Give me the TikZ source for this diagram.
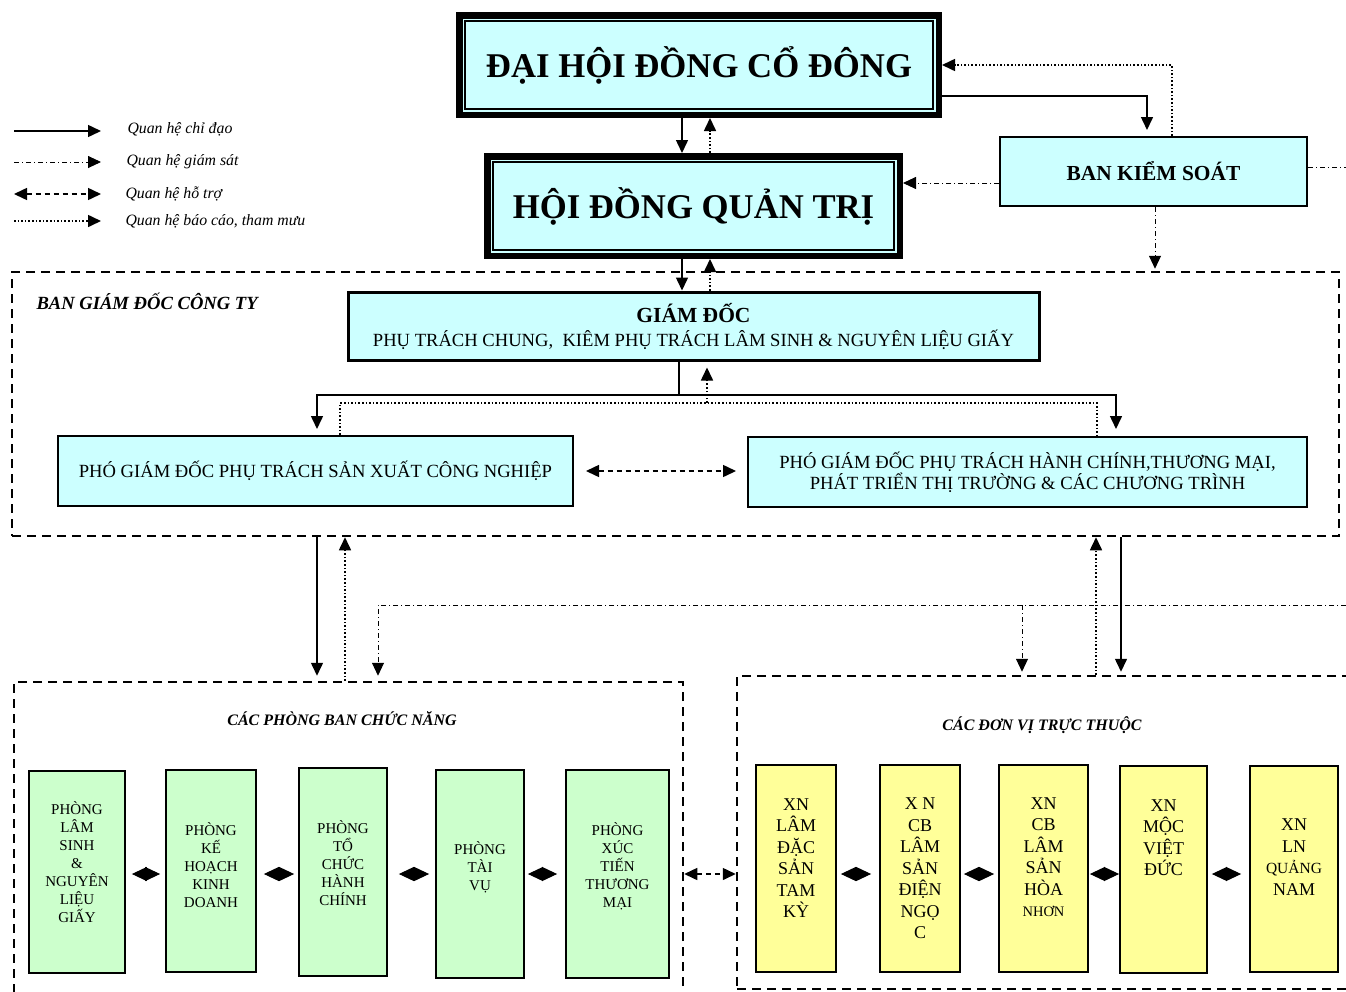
\documentclass[tikz,border=0pt]{standalone}
\usepackage{fontspec}
\setmainfont{Liberation Serif}
\usetikzlibrary{arrows.meta}
\definecolor{cyanf}{HTML}{CCFFFF}
\definecolor{greenf}{HTML}{CCFFCC}
\definecolor{yellowf}{HTML}{FFFF99}
\newcommand{\fs}[2]{\fontsize{#1}{#2}\selectfont}
\begin{document}
\begin{tikzpicture}[x=1pt,y=-1pt,
  >={Triangle[length=13pt,width=12pt]},
  bigbox/.style={fill=cyanf, draw=black, line width=1.3pt, inner sep=0pt, outer sep=9pt,
    preaction={draw=black, line width=18pt}, preaction={draw=cyanf, line width=5pt}},
  box/.style={fill=cyanf, draw=black, line width=2pt, inner sep=0pt, align=center},
  ctr/.style={draw=black, line width=2.5pt, dash pattern=on 9pt off 6pt},
  gbox/.style={fill=greenf, draw=black, line width=1.8pt, inner sep=0pt},
  ybox/.style={fill=yellowf, draw=black, line width=1.8pt, inner sep=0pt},
  glbl/.style={align=center, font=\fs{15}{18}},
  ylbl/.style={align=center, font=\fs{18}{21.5}},
  chidao/.style={draw, line width=1.5pt, ->},
  giamsat/.style={draw, line width=0.9pt, dash pattern=on 5pt off 3pt on 1pt off 3pt, ->},
  hotro/.style={draw, line width=1.5pt, dash pattern=on 5pt off 4pt, <->},
  baocao/.style={draw, line width=1.6pt, dash pattern=on 1.6pt off 2pt, ->},
  dbl/.style={draw, line width=1pt, {Triangle[length=15pt,width=14pt]}-{Triangle[length=15pt,width=14pt]}},
  lgd/.style={anchor=west, font=\itshape\fs{15.8}{18}},
  ctrl/.style={font=\bfseries\itshape\fs{16}{19}}
]
\useasboundingbox (0,0) rectangle (1346,991);

% ---- legend
\coordinate (la1) at (14,131); \coordinate (lb1) at (101,131);
\coordinate (la2) at (14,162); \coordinate (lb2) at (101,162);
\coordinate (la3) at (14,194); \coordinate (lb3) at (101,194);
\coordinate (la4) at (14,221); \coordinate (lb4) at (101,221);
\draw[chidao] (la1) -- (lb1);
\draw[giamsat] (la2) -- (lb2);
\draw[hotro] (la3) -- (lb3);
\draw[baocao] (la4) -- (lb4);
\node[lgd] (lt1) at (124,129) {Quan hệ chỉ đạo};
\node[lgd] (lt2) at (123,162) {Quan hệ giám sát};
\node[lgd] (lt3) at (122,194) {Quan hệ hỗ trợ};
\node[lgd] (lt4) at (122,221) {Quan hệ báo cáo, tham mưu};

% ---- top boxes
\node[bigbox, minimum width=468pt, minimum height=88pt, font=\bfseries\fs{34.7}{40}] (dh) at (699,65) {ĐẠI HỘI ĐỒNG CỔ ĐÔNG};
\node[bigbox, minimum width=401pt, minimum height=88pt, font=\bfseries\fs{34.7}{40}] (hd) at (693.5,206) {HỘI ĐỒNG QUẢN TRỊ};
\node[box, minimum width=307pt, minimum height=69pt, font=\bfseries\fs{21.4}{25}] (bks) at (1153.5,171.5) {BAN KIỂM SOÁT};

% ---- ban giam doc
\node[ctr, minimum width=1327pt, minimum height=264pt] (bgd) at (675.5,404) {};
\node[font=\bfseries\itshape\fs{18.6}{21}, anchor=west] (bgdl) at (33,301) {BAN GIÁM ĐỐC CÔNG TY};
\node[box, line width=3pt, minimum width=691pt, minimum height=68pt, font=\fs{18.6}{24}] (gd) at (693.5,326)
  {{\bfseries\fs{21.5}{24}GIÁM ĐỐC}\\PHỤ TRÁCH CHUNG,\ \ KIÊM PHỤ TRÁCH LÂM SINH \& NGUYÊN LIỆU GIẤY};
\node[box, minimum width=515pt, minimum height=70pt, font=\fs{18.6}{21}] (pg1) at (315.5,471)
  {PHÓ GIÁM ĐỐC PHỤ TRÁCH SẢN XUẤT CÔNG NGHIỆP};
\node[box, minimum width=559pt, minimum height=70pt, font=\fs{18.6}{21}] (pg2) at (1027.5,472)
  {PHÓ GIÁM ĐỐC PHỤ TRÁCH HÀNH CHÍNH,THƯƠNG MẠI,\\PHÁT TRIỂN THỊ TRƯỜNG \& CÁC CHƯƠNG TRÌNH};

% ---- lower containers
\node[ctr, minimum width=669pt, minimum height=340pt] (pb) at (348.5,852) {};
\node[ctr, minimum width=623pt, minimum height=313pt] (dv) at (1048.5,832.5) {};
\node[ctrl] (pbl) at (342,719) {CÁC PHÒNG BAN CHỨC NĂNG};
\node[ctrl] (dvl) at (1042,725) {CÁC ĐƠN VỊ TRỰC THUỘC};

% ---- green boxes
\node[gbox, minimum width=96pt, minimum height=202pt, label={[glbl, yshift=10pt]center:{PHÒNG\\LÂM\\SINH\\\&\\NGUYÊN\\LIỆU\\GIẤY}}] (p1) at (77,872) {};
\node[gbox, minimum width=90pt, minimum height=202pt, label={[glbl, yshift=6pt]center:{PHÒNG\\KẾ\\HOẠCH\\KINH\\DOANH}}] (p2) at (211,871) {};
\node[gbox, minimum width=88pt, minimum height=208pt, label={[glbl, yshift=9pt]center:{PHÒNG\\TỔ\\CHỨC\\HÀNH\\CHÍNH}}] (p3) at (343,872) {};
\node[gbox, minimum width=88pt, minimum height=208pt, label={[glbl, yshift=7pt]center:{PHÒNG\\TÀI\\VỤ}}] (p4) at (480,874) {};
\node[gbox, minimum width=103pt, minimum height=208pt, label={[glbl, yshift=8pt]center:{PHÒNG\\XÚC\\TIẾN\\THƯƠNG\\MẠI}}] (p5) at (617.5,874) {};

% ---- yellow boxes
\node[ybox, minimum width=80pt, minimum height=207pt, label={[ylbl, yshift=10.5pt]center:{XN\\LÂM\\ĐẶC\\SẢN\\TAM\\KỲ}}] (y1) at (796,868.5) {};
\node[ybox, minimum width=80pt, minimum height=207pt, label={[ylbl]center:{X N\\CB\\LÂM\\SẢN\\ĐIỆN\\NGỌ\\C}}] (y2) at (920,868.5) {};
\node[ybox, minimum width=89pt, minimum height=207pt, label={[ylbl, yshift=11.5pt]center:{XN\\CB\\LÂM\\SẢN\\HÒA\\{\fs{14.5}{21.5}NHƠN}}}] (y3) at (1043.5,868.5) {};
\node[ybox, minimum width=87pt, minimum height=207pt, label={[ylbl, yshift=32pt]center:{XN\\MỘC\\VIỆT\\ĐỨC}}] (y4) at (1163.5,869.5) {};
\node[ybox, minimum width=88pt, minimum height=206pt, label={[ylbl, yshift=12pt]center:{XN\\LN\\{\fs{15.5}{21.5}QUẢNG}\\NAM}}] (y5) at (1294,869) {};

% ---- connectors top
\coordinate (cA) at (682,0); \coordinate (cB) at (710,0);
\draw[chidao] (dh.south -| cA) -- (hd.north -| cA);
\draw[baocao] (hd.north -| cB) -- (dh.south -| cB);
\draw[chidao] (hd.south -| cA) -- (gd.north -| cA);
\draw[baocao] (gd.north -| cB) -- (hd.south -| cB);

\coordinate (k1) at (1147,96);
\draw[chidao, shorten >=6pt] (dh.east |- k1) -| (bks.north -| k1);
\coordinate (k2) at (1172,65);
\draw[baocao] (bks.north -| k2) -- (k2) -- (dh.east |- k2);
\coordinate (k3) at (0,183);
\draw[giamsat] (bks.west |- k3) -- (hd.east |- k3);
\coordinate (k4) at (1346,167);
\draw[giamsat, -] (bks.east |- k4) -- (k4);
\coordinate (k5) at (1155,0);
\draw[giamsat, shorten >=2pt] (bks.south -| k5) -- (bgd.north -| k5);

% ---- GD to PGD
\coordinate (j) at (679,395); \coordinate (jl) at (317,395); \coordinate (jr) at (1116,395);
\draw[line width=1.5pt] (gd.south -| j) -- (j);
\draw[chidao, shorten >=6pt] (j) -- (jl) -- (pg1.north -| jl);
\draw[chidao, shorten >=7pt] (j) -- (jr) -- (pg2.north -| jr);
\coordinate (d1) at (340,403); \coordinate (d2) at (1097,403); \coordinate (d3) at (707,403);
\draw[baocao, -] (pg1.north -| d1) -- (d1) -- (d2) -- (pg2.north -| d2);
\draw[baocao, shorten >=6pt] (d3) -- (gd.south -| d3);
\draw[hotro, shorten <=12pt, shorten >=11pt] (pg1.east) -- (pg2.west |- pg1.east);

% ---- BGD to lower
\coordinate (m1) at (317,0); \coordinate (m2) at (345,0); \coordinate (m3) at (1096,0); \coordinate (m4) at (1121,0);
\draw[chidao, shorten >=5pt] (bgd.south -| m1) -- (pb.north -| m1);
\draw[baocao] (pb.north -| m2) -- (bgd.south -| m2);
\draw[baocao] (dv.north -| m3) -- (bgd.south -| m3);
\draw[chidao, shorten >=3pt] (bgd.south -| m4) -- (dv.north -| m4);
\coordinate (g1) at (1346,605); \coordinate (g2) at (378,605); \coordinate (g3) at (1022,605);
\draw[giamsat, shorten >=5pt] (g1) -- (g2) -- (pb.north -| g2);
\draw[giamsat, shorten >=3pt] (g3) -- (dv.north -| g3);

% ---- double arrows
\coordinate (ya) at (0,874);
\draw[dbl, shorten <=6pt, shorten >=5pt] (p1.east |- ya) -- (p2.west |- ya);
\draw[dbl, shorten <=7pt, shorten >=4pt] (p2.east |- ya) -- (p3.west |- ya);
\draw[dbl, shorten <=11pt, shorten >=6pt] (p3.east |- ya) -- (p4.west |- ya);
\draw[dbl, shorten <=3pt, shorten >=8pt] (p4.east |- ya) -- (p5.west |- ya);
\draw[hotro] (pb.east |- ya) -- (dv.west |- ya);
\draw[dbl, shorten <=4pt, shorten >=8pt] (y1.east |- ya) -- (y2.west |- ya);
\draw[dbl, shorten <=3pt, shorten >=4pt] (y2.east |- ya) -- (y3.west |- ya);
\draw[dbl, shorten <=1pt, shorten >=0pt] (y3.east |- ya) -- (y4.west |- ya);
\draw[dbl, shorten <=4pt, shorten >=8pt] (y4.east |- ya) -- (y5.west |- ya);
\end{tikzpicture}
\end{document}
